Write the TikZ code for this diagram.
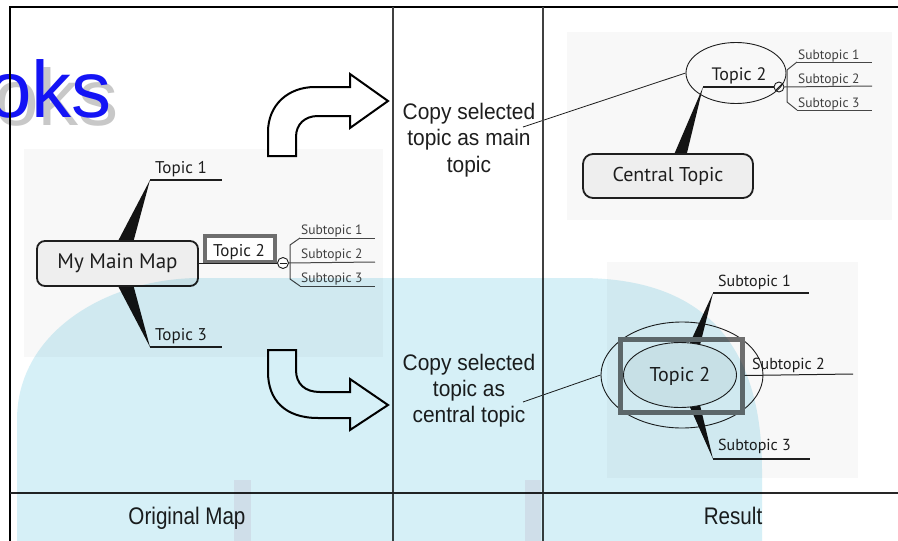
\documentclass[tikz,border=0pt]{standalone}
\usepackage{fontspec}
\setmainfont{PT Sans}
\newfontfamily\labfont[FakeStretch=0.93]{Liberation Sans}
\newfontfamily\botfont[FakeStretch=0.86]{Liberation Sans}
\newfontfamily\wmfont{Liberation Sans}
\usetikzlibrary{shapes.geometric}
\definecolor{wmblue}{RGB}{214,240,247}
\definecolor{wmpink}{RGB}{247,236,241}
\definecolor{panelgray}{RGB}{248,248,248}
\definecolor{boxfill}{RGB}{238,238,238}
\definecolor{selgray}{RGB}{110,110,110}
\definecolor{txtdark}{RGB}{30,30,30}
\definecolor{linegray}{RGB}{70,70,70}
\definecolor{wmtext}{RGB}{20,20,245}
\definecolor{wmshadow}{RGB}{200,200,200}
\tikzset{
  panel/.style={fill=panelgray},
  mainbox/.style={draw=txtdark, line width=1.8pt, fill=boxfill, rounded corners=8pt, inner sep=0pt, text=txtdark},
  topictext/.style={inner sep=0pt, anchor=base west, text=txtdark, font=\fontsize{17}{20}\selectfont},
  subtext/.style={inner sep=0pt, anchor=base west, text=txtdark!85, font=\fontsize{13.5}{16}\selectfont},
  bigsub/.style={inner sep=0pt, anchor=base west, text=txtdark, font=\fontsize{16}{19}\selectfont},
  uline/.style={draw=txtdark, line width=2pt},
  thinline/.style={draw=linegray, line width=1pt},
  wedgefill/.style={fill=black!92},
  labtext/.style={inner sep=0pt, anchor=base, text=txtdark, font=\labfont\fontsize{22.5}{26}\selectfont},
  bottext/.style={inner sep=0pt, anchor=base, text=txtdark, font=\botfont\fontsize{24}{28}\selectfont},
  bigarrow/.style={draw=black, line width=2pt, fill=white, line join=miter},
  framethin/.style={draw=black!75, line width=1.2pt},
  ellnode/.style={ellipse, draw=txtdark, line width=0.9pt, inner sep=0pt},
  collapse/.style={circle, draw=txtdark, line width=0.9pt, fill=white, minimum size=11pt, inner sep=0pt}
}
\begin{document}
\begin{tikzpicture}[x=1pt,y=-1pt]
\useasboundingbox (0,0) rectangle (898,541);
\fill[white] (0,0) rectangle (898,541);

% panels
\fill[panel] (24,149) rectangle (383,357);
\fill[panel] (567,32) rectangle (892,220);
\fill[panel] (607,262) rectangle (858,478);

% watermark text
\node[inner sep=0pt, anchor=base west, text=wmshadow, font=\wmfont\fontsize{80}{90}\selectfont] (wmshad) at (-6,125) {oks};
\node[inner sep=0pt, anchor=base west, text=wmtext, font=\wmfont\fontsize{80}{90}\selectfont] (wm) at (-13,117) {oks};

% ---------- left map ----------
\fill[wedgefill] (117,243) -- (150,180) -- (133,243) -- cycle;
\fill[wedgefill] (117,284) -- (150,347) -- (133,284) -- cycle;
\node[mainbox, minimum width=161pt, minimum height=45pt, font=\fontsize{21}{24}\selectfont] (main) at (117.5,263.5) {My Main Map};
\node[topictext] (t1) at (155,173) {Topic 1};
\node[topictext] (t3) at (155,340) {Topic 3};
\coordinate (t1a) at (150,180); \coordinate (t1b) at (222,180);
\coordinate (t3a) at (150,347); \coordinate (t3b) at (222,347);
\draw[uline] (t1a) -- (t1b);
\draw[uline] (t3a) -- (t3b);
\node[draw=selgray, line width=4pt, fill=white, minimum width=70pt, minimum height=26pt, inner sep=0pt] (t2sel) at (240,249) {};
\node[topictext, anchor=base] (t2) at (239,256) {Topic 2};
\node[collapse] (c1) at (283,263) {};
\draw[thinline, draw=txtdark] (main.east |- c1) -- (c1.west);
\draw[line width=0.9pt, txtdark] ([xshift=-3.5pt]c1.center) -- ([xshift=3.5pt]c1.center);
\coordinate (s1a) at (300,238); \coordinate (s1b) at (375,238);
\coordinate (s2b) at (375,262);
\coordinate (s3a) at (300,286); \coordinate (s3b) at (375,286);
\draw[thinline] (s1a) -- (290,245) -- (290,279) -- (s3a);
\draw[thinline] (s1a) -- (s1b);
\draw[thinline] (c1.east) -- (s2b);
\draw[thinline] (s3a) -- (s3b);
\node[subtext] (ls1) at (301,234) {Subtopic 1};
\node[subtext] (ls2) at (301,258) {Subtopic 2};
\node[subtext] (ls3) at (301,282) {Subtopic 3};

% ---------- arrows ----------
\draw[bigarrow] (268,156) -- (268,132) .. controls (268,105) and (288,87) .. (315,87) -- (350,87) -- (350,74) -- (388,101) -- (350,128) -- (350,116) -- (318,116) .. controls (305,116) and (296,124) .. (296,137) -- (296,156) -- cycle;
\draw[bigarrow] (268,350) -- (296,350) -- (296,370) .. controls (296,384) and (305,392) .. (320,392) -- (350,392) -- (350,379) -- (388,405) -- (350,430) -- (350,418) -- (318,418) .. controls (285,418) and (268,400) .. (268,372) -- cycle;

% ---------- middle labels ----------
\node[labtext] (ca1) at (469,119) {Copy selected};
\node[labtext] (ca2) at (469,145) {topic as main};
\node[labtext] (ca3) at (469,172) {topic};
\node[labtext] (cb1) at (469,370) {Copy selected};
\node[labtext] (cb2) at (469,396) {topic as};
\node[labtext] (cb3) at (469,422) {central topic};
\coordinate (pa) at (523,127);
\coordinate (pb) at (523,402);

% ---------- top right map ----------
\fill[wedgefill] (673,157) -- (703,87) -- (686,157) -- cycle;
\node[mainbox, rounded corners=10pt, minimum width=170pt, minimum height=44pt, font=\fontsize{20}{24}\selectfont] (ct) at (668,176) {Central Topic};
\node[ellnode, minimum width=100pt, minimum height=61pt] (tt2) at (736,73) {};
\node[inner sep=0pt, anchor=base, text=txtdark, font=\fontsize{18}{21}\selectfont] (tt2t) at (739,80) {Topic 2};
\node[collapse, fill=none, minimum size=10pt] (c2) at (779,87) {};
\draw[line width=2pt, txtdark] (703,87) -- (c2.west);
\draw[line width=0.8pt, txtdark] ([shift={(-3,3)}]c2.center) -- ([shift={(3,-3)}]c2.center);
\coordinate (r1a) at (797,62); \coordinate (r1b) at (872,62);
\coordinate (r2b) at (872,86);
\coordinate (r3a) at (797,110); \coordinate (r3b) at (872,110);
\draw[thinline] (r1a) -- (787,70) -- (787,102) -- (r3a);
\draw[thinline] (r1a) -- (r1b);
\draw[thinline] (c2.east) -- (r2b);
\draw[thinline] (r3a) -- (r3b);
\node[subtext] (rs1) at (798,59) {Subtopic 1};
\node[subtext] (rs2) at (798,83) {Subtopic 2};
\node[subtext] (rs3) at (798,107) {Subtopic 3};
\draw[line width=0.8pt, txtdark] (pa) -- (tt2.west);

% ---------- bottom right map ----------
\node[ellnode, minimum width=162pt, minimum height=106pt] (oute) at (682,375) {};
\fill[wedgefill] (689,345) -- (713,293) -- (700,345) -- cycle;
\fill[wedgefill] (689,405) -- (713,459) -- (700,405) -- cycle;
\coordinate (b1a) at (713,293); \coordinate (b1b) at (809,293);
\coordinate (b3a) at (713,459); \coordinate (b3b) at (810,459);
\coordinate (b2b) at (853,374);
\draw[uline] (b1a) -- (b1b);
\draw[uline] (b3a) -- (b3b);
\node[ellnode, fill=boxfill, minimum width=113pt, minimum height=65pt] (inne) at (680,375) {};
\node[draw=selgray, line width=5pt, minimum width=122pt, minimum height=73pt, inner sep=0pt] (bsel) at (681,375.5) {};
\draw[line width=1pt, txtdark] (bsel.east) -- (b2b);
\node[inner sep=0pt, text=txtdark, font=\fontsize{20}{24}\selectfont] (bt2) at (680,376) {Topic 2};
\node[bigsub] (bs1) at (718,286) {Subtopic 1};
\node[bigsub] (bs2) at (752,369) {Subtopic 2};
\node[bigsub] (bs3) at (718,450) {Subtopic 3};
\draw[line width=0.8pt, txtdark] (pb) -- (oute.west);

% ---------- frame ----------
\draw[black, line width=2.2pt] (9,7) -- (898,7);
\draw[black, line width=1.5pt] (10,6) -- (10,541);
\draw[framethin] (393,7) -- (393,541);
\draw[framethin] (543,7) -- (543,541);
\draw[framethin, draw=black!85] (10,493) -- (898,493);
\node[bottext] (om) at (187,524) {Original Map};
\node[bottext] (res) at (733,524) {Result};

% ---------- watermark overlay ----------
\begin{scope}[blend mode=multiply]
\fill[wmblue] (17,541) -- (17,420) .. controls (17,330) and (110,278) .. (200,278) -- (580,278) .. controls (690,278) and (762,330) .. (762,470) -- (762,541) -- cycle;
\fill[wmpink] (234,480) rectangle (251,541);
\fill[wmpink] (525,480) rectangle (541,541);
\end{scope}
\end{tikzpicture}
\end{document}
